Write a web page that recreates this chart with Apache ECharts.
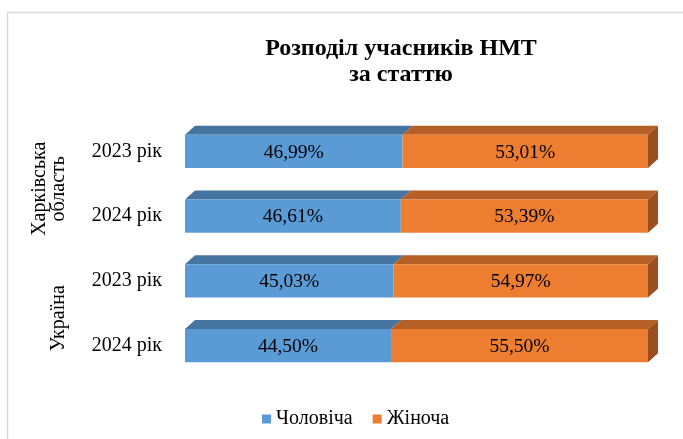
<!DOCTYPE html>
<html>
<head>
<meta charset="utf-8">
<script src="https://cdn.jsdelivr.net/npm/echarts@6/dist/echarts.min.js"></script>
<style>
  html, body { margin: 0; padding: 0; background: #fff; }
  #chart { width: 683px; height: 439px; }
</style>
</head>
<body>
<div id="chart"></div>
<script>
// data
const years = ['2023 рік', '2024 рік', '2023 рік', '2024 рік'];
const groups = ['Харківська\nобласть', 'Україна'];
const male = [46.99, 46.61, 45.03, 44.50];
const female = [53.01, 53.39, 54.97, 55.50];
const seriesNames = ['Чоловіча', 'Жіноча'];

const serif = '"Liberation Serif", "DejaVu Serif", serif';
const DX = 10, DY = 9;

const palette = {
    front: ['#5B9BD5', '#ED7D31'],
    top: ['#4674A0', '#B65F26'],
    side: ['#3E6790', '#9A4F1E']
};

const chart = echarts.init(document.getElementById('chart'), null, { renderer: 'canvas' });

function makeRender(idx, isLast) {
    return function (params, api) {
        const start = api.value(0);
        const end = api.value(1);
        const cat = api.value(2);
        const p0 = api.coord([start, cat]);
        const p1 = api.coord([end, cat]);
        const h = api.size([0, 1])[1] * 0.51;
        const x0 = p0[0], x1 = p1[0];
        const yt = p0[1] - h / 2, yb = p0[1] + h / 2;
        const children = [
            {
                type: 'polygon',
                shape: { points: [[x0, yt], [x0 + DX, yt - DY], [x1 + DX, yt - DY], [x1, yt]] },
                style: { fill: palette.top[idx] }
            },
            {
                type: 'rect',
                shape: { x: x0, y: yt, width: x1 - x0, height: yb - yt },
                style: { fill: palette.front[idx] }
            },
            {
                type: 'text',
                style: {
                    text: api.value(3).toFixed(2).replace('.', ',') + '%',
                    x: (x0 + x1) / 2, y: (yt + yb) / 2 + 1,
                    align: 'center', verticalAlign: 'middle',
                    font: '19.5px ' + serif, fill: '#000'
                }
            }
        ];
        if (isLast) {
            children.push({
                type: 'polygon',
                shape: { points: [[x1, yt], [x1 + DX, yt - DY], [x1 + DX, yb - DY], [x1, yb]] },
                style: { fill: palette.side[idx] }
            });
        }
        return { type: 'group', children: children };
    };
}

const maleData = male.map((v, i) => [0, v, i, v]);
const femaleData = female.map((v, i) => [male[i], male[i] + v, i, v]);

const option = {
    animation: false,
    title: {
        text: 'Розподіл учасників НМТ\nза статтю',
        left: 396, top: 31, textAlign: 'center',
        textStyle: { fontFamily: serif, fontWeight: 'bold', fontSize: 24, lineHeight: 26, color: '#000' }
    },
    legend: {
        bottom: 5, left: 257,
        itemWidth: 9, itemHeight: 9, itemGap: 20,
        icon: 'rect',
        textStyle: { fontFamily: serif, fontSize: 20, color: '#000' },
        data: [
            { name: seriesNames[0], itemStyle: { color: palette.front[0] } },
            { name: seriesNames[1], itemStyle: { color: palette.front[1] } }
        ]
    },
    graphic: [{
        type: 'rect', silent: true,
        shape: { x: 7.5, y: 12.5, width: 720, height: 460 },
        style: { fill: 'none', stroke: '#d9d9d9', lineWidth: 1.5 }
    }],
    grid: { left: 185, right: 35, top: 119, bottom: 61 },
    xAxis: { type: 'value', min: 0, max: 100, show: false },
    yAxis: [
        {
            type: 'category', data: years, inverse: true,
            axisLine: { show: false }, axisTick: { show: false },
            axisLabel: { margin: 23, fontFamily: serif, fontSize: 20, color: '#000' }
        },
        {
            type: 'category', data: groups, inverse: true, position: 'left', offset: 117,
            axisLine: { show: false }, axisTick: { show: false },
            axisLabel: { rotate: 90, margin: 0, fontFamily: serif, fontSize: 20, lineHeight: 19, color: '#000',
                padding: [0, 10, 0, 0] }
        }
    ],
    series: [
        {
            name: seriesNames[0], type: 'custom', renderItem: makeRender(0, false),
            encode: { x: [0, 1], y: 2 }, data: maleData, itemStyle: { color: palette.front[0] }
        },
        {
            name: seriesNames[1], type: 'custom', renderItem: makeRender(1, true),
            encode: { x: [0, 1], y: 2 }, data: femaleData, itemStyle: { color: palette.front[1] }
        }
    ]
};

chart.setOption(option);
</script>
</body>
</html>
